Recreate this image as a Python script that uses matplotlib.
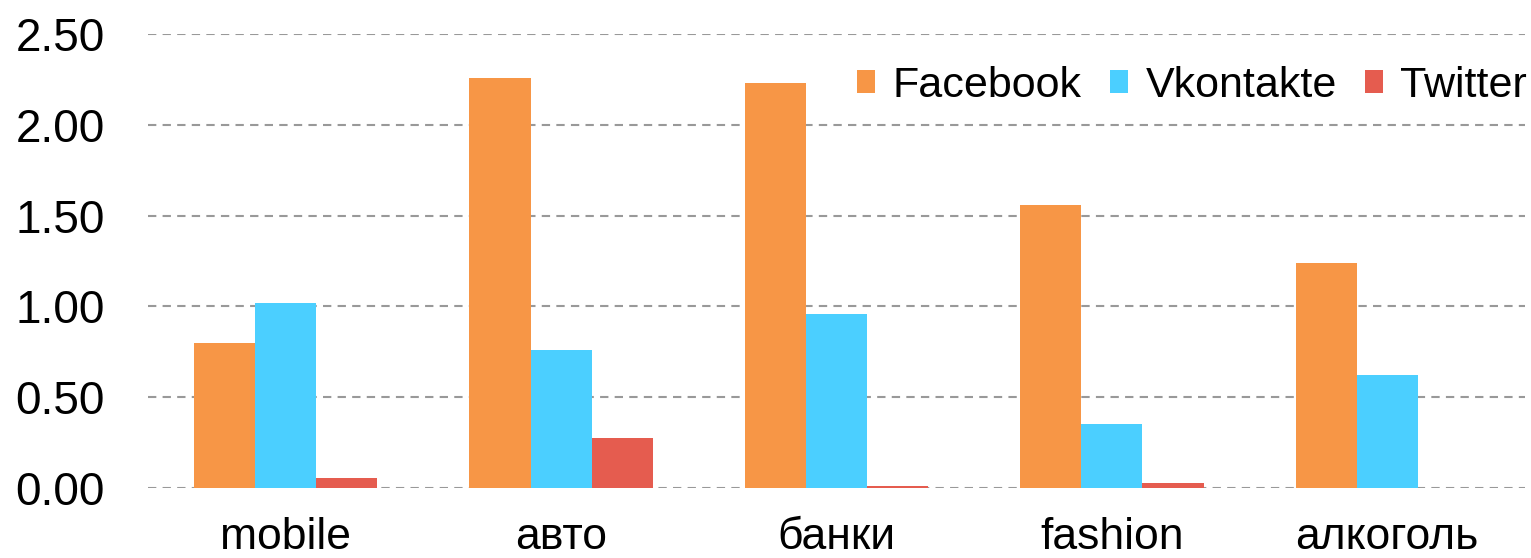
import matplotlib
matplotlib.use("Agg")
import matplotlib.pyplot as plt
import numpy as np

plt.rcParams['font.family'] = ['Liberation Sans', 'DejaVu Sans']

categories = ["mobile", "авто", "банки", "fashion", "алкоголь"]
series_names = ["Facebook", "Vkontakte", "Twitter"]
facebook = [0.80, 2.26, 2.23, 1.56, 1.24]
vkontakte = [1.02, 0.76, 0.96, 0.35, 0.62]
twitter = [0.055, 0.275, 0.011, 0.028, 0.0]
colors = ["#F79646", "#4BCFFF", "#E55C4F"]
yticks = [0.0, 0.5, 1.0, 1.5, 2.0, 2.5]

fig = plt.figure(figsize=(15.31, 5.58), dpi=100)
ax = fig.add_axes([148/1531, 70/558, 1377/1531, 454/558])

x = np.arange(len(categories))
w = 0.222
for i, (vals, name, c) in enumerate(zip([facebook, vkontakte, twitter], series_names, colors)):
    ax.bar(x + (i - 1) * w, vals, width=w, color=c, label=name, zorder=2)

ax.set_xlim(-0.5, len(categories) - 0.5)
ax.set_ylim(0, 2.5)
ax.set_yticks(yticks)
ax.set_yticklabels([f"{v:.2f}" for v in yticks])
ax.set_xticks(x)
ax.set_xticklabels(categories)
ax.yaxis.grid(True, linestyle=(0, (4, 3)), color="#999999", linewidth=1.5, zorder=0)
ax.set_axisbelow(True)
for s in ax.spines.values():
    s.set_visible(False)
ax.tick_params(axis='both', length=0)
ax.tick_params(axis='y', pad=31, labelsize=33)
ax.tick_params(axis='x', pad=21, labelsize=32)

leg = ax.legend(loc='upper right', bbox_to_anchor=(1.011, 0.958), borderaxespad=0.0,
                borderpad=0.3, ncol=3, frameon=False,
                fontsize=31, handlelength=0.42, handleheight=0.42, handletextpad=0.4,
                columnspacing=0.66)

fig.savefig("out.png", dpi=100)
